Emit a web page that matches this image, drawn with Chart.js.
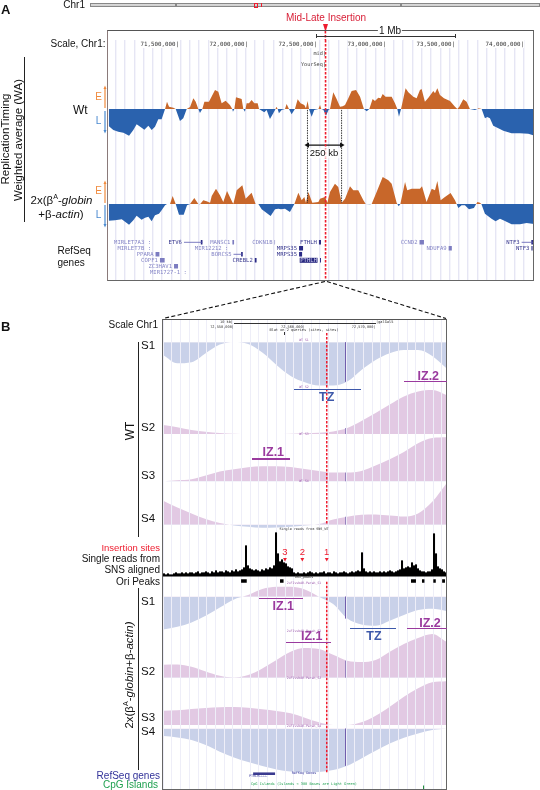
<!DOCTYPE html>
<html><head><meta charset="utf-8">
<style>
html,body{margin:0;padding:0;background:#fff;width:540px;height:790px;overflow:hidden}
#page{position:relative;width:540px;height:790px;overflow:hidden;font-family:"Liberation Sans",Arial,sans-serif}
canvas{position:absolute}
.t{position:absolute;white-space:nowrap;line-height:1;z-index:5}
.b{position:absolute;z-index:5}
svg{position:absolute;left:0;top:0;z-index:4}
sup{font-size:.62em;line-height:0}
</style>
<script src="https://cdn.jsdelivr.net/npm/chart.js@4"></script>
</head><body><div id="page"></div>
<script>
/* ---------- Panel A data: x in Mb on chr1, y in weighted-average units ---------- */
const wtMb=[70.99,71.024,71.060,71.097,71.138,71.169,71.193,71.229,71.249,71.278,71.302,71.326,71.350,71.374,71.399,71.413,71.428,71.459,71.476,71.507,71.531,71.556,71.580,71.604,71.621,71.640,71.652,71.669,71.684,71.717,71.761,71.785,71.809,71.838,71.869,71.886,71.891,71.901,71.913,71.954,71.966,71.978,71.990,72.007,72.026,72.046,72.070,72.080,72.118,72.135,72.159,72.183,72.200,72.205,72.215,72.224,72.244,72.268,72.280,72.297,72.316,72.340,72.360,72.381,72.408,72.420,72.432,72.442,72.461,72.480,72.510,72.522,72.531,72.546,72.565,72.584,72.594,72.618,72.642,72.667,72.686,72.703,72.727,72.751,72.783,72.812,72.840,72.860,72.879,72.903,72.920,72.944,72.961,72.976,72.997,73.041,73.065,73.082,73.094,73.109,73.142,73.162,73.198,73.222,73.246,73.258,73.282,73.307,73.343,73.355,73.372,73.391,73.420,73.464,73.500,73.517,73.531,73.560,73.584,73.608,73.645,73.662,73.671,73.693,73.717,73.734,73.753,73.777,73.814,73.850,73.910,73.971,74.031,74.075];
const wtWA=[-1.7,-2.1,-2.27,-2.37,-2.67,-2.1,-1.53,-1.87,-2.07,-1.67,-2.1,-1.77,-1.03,-1.03,0,.73,.23,.13,0,-1.2,-.93,0,.2,1.07,.73,0,-.4,0,.73,.73,1.9,1.73,.57,.83,.4,0,-.27,0,1.17,1,0,-.27,.57,.57,.9,.57,.57,0,-.33,-.1,-1,-.43,0,.23,0,-.43,-.1,0,.5,0,-.53,0,.97,.57,.4,.07,.8,0,-.77,-.1,0,.4,0,-.07,-.67,-.07,0,1.67,1,.23,.27,.4,1.07,1.8,1.9,1.23,0,-.23,0,1,.8,1.13,1.07,1.5,1.23,1.23,.57,0,-.77,0,2.07,1.67,1.23,1.07,1.9,2,.73,1.13,1.8,1.57,2.07,1.4,1.07,.8,.23,0,.23,.97,.73,0,-.1,0,.07,0,-.93,-.8,-.93,-1.67,-1.93,-2.17,-2.43,-2.43,-2.47,-2.67];
const koMb=[70.99,71.036,71.085,71.138,71.169,71.193,71.229,71.254,71.278,71.302,71.326,71.355,71.374,71.399,71.413,71.435,71.454,71.476,71.500,71.534,71.558,71.580,71.611,71.640,71.652,71.676,71.700,71.725,71.737,71.768,71.797,71.821,71.848,71.886,71.894,71.918,71.959,71.983,72.026,72.055,72.075,72.099,72.164,72.196,72.220,72.239,72.268,72.304,72.336,72.365,72.389,72.408,72.420,72.437,72.466,72.510,72.522,72.558,72.575,72.594,72.630,72.654,72.679,72.703,72.739,72.763,72.799,72.836,72.853,72.884,72.896,72.932,72.976,73.017,73.041,73.077,73.092,73.104,73.138,73.154,73.186,73.246,73.261,73.294,73.331,73.355,73.372,73.396,73.427,73.468,73.500,73.512,73.524,73.548,73.572,73.601,73.637,73.662,73.681,73.691,73.717,73.765,73.794,73.826,73.862,73.910,73.971,74.019,74.075];
const koWA=[-1.67,-1.63,-1.53,-2.07,-1.63,-1.17,-1.57,-1.37,-1.27,-1.73,-1.13,-.97,-.63,-.13,0,0,.8,0,-1.07,-1.07,-.13,0,.6,0,-.03,.37,.27,.13,.8,1.53,.87,.2,1.3,.2,.03,1.37,1.87,.53,1.13,0,0,-.53,-1.2,-.53,-.47,-.53,-.47,-.8,0,1.13,.37,.7,.13,1.2,.13,.2,.53,.7,.13,1.2,2.03,1.7,.13,.53,1.77,1.37,1.37,.37,0,-.03,0,1.2,2.7,2.37,2.03,.13,-.23,0,2.2,1.37,1.53,1.53,1.77,.2,1.53,1.37,2.3,.37,.7,1.1,.37,0,-.4,-.13,-.13,-.53,-.4,.2,.13,0,-.97,-1.47,-1.73,-1.47,-1.7,-2.03,-2.03,-1.9,-2];
const aTickMb=[71.5,72,72.5,73,73.5,74];
const insertionMb=72.562;
const window250Mb=[72.431,72.678];
/* RefSeq genes, panel A */
const geneNames=["MIRLET7A3 :","ETV6","MANSC1","CDKN1B","FTHLH","CCND2","NTF3","MIRLET7B :","MIR12212 :","MRPS35","NDUFA9","NTF3","PPARA","BORCS5","MRPS35","COPF1","CREBL2","PTHLH","ZC3HAV1","MIR1727-1 :"];
const geneRow=[0,0,0,0,0,0,0,1,1,1,1,1,2,2,2,3,3,3,4,5];
const geneStart=[71.312,71.536,71.887,72.192,72.514,73.243,73.983,71.312,71.873,72.370,73.454,74.054,71.330,71.895,72.370,71.362,72.049,72.522,71.464,71.572];
const geneEnd=[71.312,71.670,71.899,72.196,72.529,73.275,74.065,71.312,71.873,72.399,73.477,74.062,71.358,71.962,72.392,71.396,72.062,72.529,71.493,71.572];
const geneDark=[0,1,0,0,1,0,1,0,0,1,0,1,0,0,1,0,1,2,0,0];
const geneHasIntron=[0,1,0,0,0,0,1,0,0,0,0,0,0,1,0,0,0,0,0,0];

/* ---------- Panel B data: x in kb on chr1, tracks sampled every 2 kb ---------- */
const trackKb=[72540,72542,72544,72546,72548,72550,72552,72554,72556,72558,72560,72562,72564,72566,72568,72570,72572,72574,72576,72578,72580];
const wtS1=[-1.27,-2.1,-2,-1.1,-.23,0,-.17,-1.03,-2.27,-3.37,-4,-4.33,-4.33,-3.93,-2.77,-1.77,-1.1,-.77,-.77,-1.37,-2.6];
const wtS2=[.9,.67,.4,.22,.1,.02,0,0,0,.02,.07,.13,.25,.6,1.3,2.1,2.95,3.75,4.25,4.4,3.9];
const wtS3=[0,.1,.2,.57,.97,1.2,1.4,1.5,1.5,1.43,1.23,1.03,.87,.87,1.03,1.57,2.2,2.93,3.8,4.33,4.4];
const wtS4=[2.4,1.73,1.13,.57,.17,-.07,-.2,-.3,-.27,-.2,-.07,.07,.53,.8,1,1.03,.93,.83,1.13,2.3,4.13];
const koS1=[-3.27,-3,-2.57,-1.9,-1.07,-.27,.17,.77,1,1,.73,0,-.73,-2.17,-2.77,-2.9,-2.4,-1.83,-1.33,-1.2,-1.43];
const koS2=[1.3,1.33,1.1,.63,.2,.03,.27,.93,1.77,2.6,2.97,2.87,2.3,1.7,1.57,1.77,2.6,3.37,3.97,4.37,3.6];
const koS3=[1.43,1.47,1.6,1.7,1.77,1.8,1.73,1.57,1.4,1.17,.73,.27,0,0,.27,.93,1.83,2.83,3.67,4.27,4.37];
const koS4=[-.73,-.87,-1.13,-1.63,-2.3,-2.87,-3.33,-3.73,-4.07,-4.27,-4.37,-4.33,-4.13,-3.7,-2.97,-2.2,-1.47,-.9,-.47,-.13,0];
const featureIndex=13;
const readsStartKb=72539.83, readsBinKb=0.2825;
const sns=[1,2,1,2,1,1,2,3,2,2,3,2,3,2,3,3,2,3,4,2,3,3,4,3,2,4,3,5,3,4,4,3,5,4,3,5,4,6,4,5,6,8,30,10,7,6,5,6,5,4,6,5,7,6,8,7,10,43,22,14,16,13,12,9,8,7,3,2,3,2,2,3,2,3,4,3,2,3,2,3,3,4,2,3,3,2,4,3,2,3,3,4,3,2,3,4,3,4,5,4,23,7,4,3,4,3,4,3,3,4,3,4,3,4,5,4,3,4,5,6,15,7,8,9,8,13,10,11,7,5,4,4,3,4,4,6,42,22,9,7,6,4,3];
const oriStartKb=[72551.0,72556.5,72575.0,72576.55,72578.15,72579.4];
const oriEndKb=[72551.8,72557.0,72575.7,72576.9,72578.5,72579.8];
const insertionSitesKb=[72557.2,72559.65,72563.1];
const insertionKb=72563.1;
const bTickKb=[72550,72560,72570];
const fthlhKb=[72552.7,72555.8];
const cpgKb=[72576.7,72576.85];

/* ---------- helpers ---------- */
const page=document.getElementById('page');
const SANS='"Liberation Sans",Arial,sans-serif', MONO='"DejaVu Sans Mono",monospace';
function T(html,x,y,o={}){
  const d=document.createElement('div');d.className='t';d.innerHTML=html;
  const a=o.a||'l',tx=a==='c'?'-50%':a==='r'?'-100%':'0';
  d.style.cssText+=`left:${x}px;top:${y}px;font-size:${o.s||10}px;color:${o.c||'#111'};font-family:${o.f||SANS};font-weight:${o.w||'normal'};`+
    `transform:translate(${tx},-50%)${o.rot?` rotate(${o.rot}deg)`:''};`+(o.bg?`background:${o.bg};padding:0 1px;`:'');
  page.appendChild(d);return d;
}
function B(x,y,w,h,css){const d=document.createElement('div');d.className='b';d.style.cssText=`left:${x}px;top:${y}px;width:${w}px;height:${h}px;${css||''}`;page.appendChild(d);return d;}
function canvasAt(x,y,w,h,z){const c=document.createElement('canvas');c.width=w;c.height=h;c.style.cssText=`left:${x}px;top:${y}px;width:${w}px;height:${h}px;z-index:${z||1}`;page.appendChild(c);return c;}
const zip=(xs,ys)=>xs.map((x,i)=>({x,y:ys[i]}));
const yAxis=(base,top,bottom,ppu)=>({type:'linear',display:false,min:-(bottom-base)/ppu,max:(base-top)/ppu});
const fracAxis={type:'linear',display:false,min:0,max:1,reverse:true};
const baseOpts=(scales)=>({responsive:false,animation:false,events:[],layout:{padding:0,autoPadding:false},
  plugins:{legend:{display:false},tooltip:{enabled:false}},elements:{point:{radius:0}},scales});

/* ---------- Panel A chart ---------- */
const aL=108,aR=534,aT=40,aB=281;
const mbPerPx=0.5/69;
const aMin=71.5+(aL-179)*mbPerPx, aMax=71.5+(aR-179)*mbPerPx;
const aGrid=[];for(let i=0;i<45;i++)aGrid.push(71.041+0.0672*i);
const fmt=v=>Math.round(v).toLocaleString('en-US');

function segments(list){const out=[];list.forEach(i=>{out.push({x:geneStart[i],y:geneRow[i]},{x:geneEnd[i],y:geneRow[i]},{x:geneEnd[i],y:null});});return out;}
const idx=geneNames.map((_,i)=>i);
const hasMark=i=>geneEnd[i]>geneStart[i];
const thickDark=idx.filter(i=>hasMark(i)&&geneDark[i]&&!geneHasIntron[i]);
const thickLight=idx.filter(i=>hasMark(i)&&!geneDark[i]&&!geneHasIntron[i]);
const intron=idx.filter(i=>geneHasIntron[i]);

const geneLabelPlugin={id:'geneLabels',afterDatasetsDraw(ch){
  const c=ch.ctx,x=ch.scales.x,y=ch.scales.yGene;
  c.save();c.font='5.6px '+MONO;c.textAlign='right';c.textBaseline='middle';
  geneNames.forEach((n,i)=>{
    const px=x.getPixelForValue(geneStart[i])-(geneDark[i]===2?3:2),py=y.getPixelForValue(geneRow[i]);
    if(geneDark[i]===2){const w=c.measureText(n).width;c.fillStyle='#2a2a80';c.fillRect(px-w-0.5,py-2.5,w+1,5);c.fillStyle='#cfcfee';}
    else c.fillStyle=geneDark[i]?'#34348c':'#8585c6';
    c.fillText(n,px,py);
  });
  c.restore();
}};

new Chart(canvasAt(aL,aT,aR-aL,aB-aT),{type:'line',plugins:[geneLabelPlugin],data:{datasets:[
  {data:[{x:insertionMb,y:0},{x:insertionMb,y:1}],yAxisID:'yFrac',borderColor:'#ee1c2e',borderWidth:1.6,borderDash:[2.5,1.5]},
  {data:[{x:window250Mb[0],y:.436},{x:window250Mb[1],y:.436}],yAxisID:'yFrac',borderColor:'#111',borderWidth:1.2,pointStyle:'triangle',pointRadius:3,pointRotation:[-90,90],pointBackgroundColor:'#111',pointBorderWidth:0},
  {data:[{x:window250Mb[0],y:.29},{x:window250Mb[0],y:.676},{x:window250Mb[0],y:null},{x:window250Mb[1],y:.29},{x:window250Mb[1],y:.676}],yAxisID:'yFrac',borderColor:'#222',borderWidth:.9,borderDash:[1.5,1]},
  {data:segments(thickDark),yAxisID:'yGene',borderColor:'#2a2a85',borderWidth:4.5},
  {data:segments(thickLight),yAxisID:'yGene',borderColor:'#7c7cc0',borderWidth:4.5},
  {data:segments(intron),yAxisID:'yGene',borderColor:'#5a5ab0',borderWidth:.8},
  {data:intron.flatMap(i=>[{x:geneEnd[i]-0.012,y:geneRow[i]},{x:geneEnd[i],y:geneRow[i]},{x:geneEnd[i],y:null}]),yAxisID:'yGene',borderColor:'#2a2a85',borderWidth:4.5},
  {data:zip(wtMb,wtWA),yAxisID:'yWt',borderWidth:0,fill:{target:'origin',above:'#c8672a',below:'#2a62ae'}},
  {data:zip(koMb,koWA),yAxisID:'yKo',borderWidth:0,fill:{target:'origin',above:'#c8672a',below:'#2a62ae'}}
]},options:baseOpts({
  x:{type:'linear',position:'top',min:aMin,max:aMax,
     afterBuildTicks(s){s.ticks=[...aGrid,...aTickMb].sort((a,b)=>a-b).map(value=>({value}));},
     afterFit(s){s.height=0;},
     border:{display:false},
     grid:{drawTicks:false,lineWidth:1.4,color:c=>aTickMb.includes(c.tick&&c.tick.value)?'rgba(0,0,0,0)':'#e6e6f4'},
     ticks:{autoSkip:false,mirror:true,maxRotation:0,align:'end',padding:0,z:2,color:'#333',font:{family:'DejaVu Sans Mono',size:5.8,lineHeight:1.38},
       showLabelBackdrop:c=>aTickMb.includes(c.tick&&c.tick.value),backdropColor:'#fff',backdropPadding:0,
       callback:v=>aTickMb.includes(v)?fmt(v*1e6)+'|':''}},
  yWt:yAxis(109,aT,aB,10),yKo:yAxis(204,aT,aB,10),
  yFrac:fracAxis,
  yGene:{type:'linear',display:false,reverse:true,min:(aT-242.3)/6,max:(aB-242.3)/6}
})});

/* ---------- Panel B charts ---------- */
const bL=162,bR=447,bT=319,bB=789;
const kbPerPx=10/70.8;
const bMin=72550+(bL-234)*kbPerPx, bMax=72550+(bR-234)*kbPerPx;
const bGrid=[];for(let i=0;i<33;i++)bGrid.push(72540+i*1.23);
const tracks=[[wtS1,342.3],[wtS2,434],[wtS3,481.3],[wtS4,524.7],[koS1,596.7],[koS2,677.7],[koS3,725],[koS4,728.7]];
const trackScales={};tracks.forEach((t,i)=>trackScales['t'+i]=yAxis(t[1],bT,bB,10));
const featureKb=trackKb[featureIndex]-0.23;
new Chart(canvasAt(bL,bT,bR-bL,bB-bT,1),{type:'line',data:{datasets:[
  ...tracks.map((t,i)=>({data:[{x:featureKb,y:0},{x:featureKb,y:t[0][featureIndex]}],yAxisID:'t'+i,borderColor:'rgba(110,90,170,.75)',borderWidth:1})),
  ...tracks.map((t,i)=>({data:zip(trackKb,t[0]),yAxisID:'t'+i,borderWidth:0,cubicInterpolationMode:'monotone',fill:{target:'origin',above:'#e2c9e3',below:'#c9d1e9'}}))
]},options:baseOpts(Object.assign({
  x:{type:'linear',position:'top',min:bMin,max:bMax,
     afterBuildTicks(s){s.ticks=[...bGrid,...bTickKb].sort((a,b)=>a-b).map(value=>({value}));},
     afterFit(s){s.height=0;},
     border:{display:false},
     grid:{drawTicks:false,lineWidth:1,z:1,color:c=>bTickKb.includes(c.tick&&c.tick.value)?'rgba(0,0,0,0)':'#eeeef8'},
     ticks:{autoSkip:false,mirror:true,maxRotation:0,align:'end',padding:0,z:2,color:'#333',font:{family:'DejaVu Sans Mono',size:3.6,lineHeight:4.72},
       callback:v=>bTickKb.includes(v)?fmt(v*1e3)+'|':''}}
},trackScales))});

/* overlay: read pile-up, Ori peaks, insertion lines */
new Chart(canvasAt(bL,bT,bR-bL,bB-bT,2),{type:'line',data:{datasets:[
  {data:[{x:insertionKb,y:.03},{x:insertionKb,y:.4383},{x:insertionKb,y:null},{x:insertionKb,y:.5589},{x:insertionKb,y:.966}],yAxisID:'yFrac',borderColor:'#ee1c2e',borderWidth:1.5,borderDash:[2.5,1.5]},
  {data:insertionSitesKb.map(x=>({x,y:16.5})),yAxisID:'yReads',showLine:false,pointStyle:'triangle',pointRadius:2.2,pointRotation:180,pointBackgroundColor:'#ee1c2e',pointBorderWidth:0},
  {data:oriStartKb.flatMap((s,i)=>[{x:s,y:.5},{x:oriEndKb[i],y:.5},{x:oriEndKb[i],y:null}]),yAxisID:'yOri',borderColor:'#000',borderWidth:3.6},
  {data:[{x:bMin,y:0},{x:bMax,y:0}],yAxisID:'yReads',borderColor:'#000',borderWidth:1.6},
  {type:'bar',data:sns.map((v,i)=>({x:readsStartKb+i*readsBinKb,y:v})),yAxisID:'yReads',backgroundColor:'#000',barThickness:1.4,borderWidth:0},
  {data:[{x:fthlhKb[0],y:.9675},{x:fthlhKb[1],y:.9675}],yAxisID:'yFrac',borderColor:'#3a3a90',borderWidth:2.6},
  {data:[{x:cpgKb[0],y:.9992},{x:cpgKb[1],y:.9992}],yAxisID:'yFrac',borderColor:'#1a8a3a',borderWidth:6}
]},options:baseOpts({
  x:{type:'linear',min:bMin,max:bMax,display:false,offset:false},
  yFrac:fracAxis,
  yReads:yAxis(575.7,bT,bB,1),
  yOri:yAxis(581.5,bT,bB,1)
})});

/* ---------- Frames and ideogram ---------- */
B(107,30,427,251,'border:1.4px solid #666;box-sizing:border-box;border-top-color:#555;border-left-color:#8a7a7a;');
B(162,318.5,285,471,'border:1.4px solid #666;box-sizing:border-box;border-top-color:#555;');
B(90,3.3,450,4,'background:linear-gradient(#bbb,#eee 45%,#bbb);border:.6px solid #888;box-sizing:border-box;');
B(175,3.3,1.5,4,'background:#888');B(400,3.3,1.5,4,'background:#888');
B(254,2.6,3.6,5.6,'border:1px solid #ee1c2e;box-sizing:border-box;');B(261.4,3.3,.8,4,'background:#ee1c2e');

/* ---------- Panel A labels ---------- */
T('<b>A</b>',1,9,{s:13});T('<b>B</b>',1,326,{s:13});
T('Chr1',85,5,{a:'r',s:10});
T('Mid-Late Insertion',326,18,{a:'c',s:10,c:'#d81e36'});
T('1 Mb',390,31,{a:'c',s:10,bg:'#fff'});
T('Scale, Chr1:',105.5,43.5,{a:'r',s:10});
B(316,35.5,139,.9,'background:#333');B(316,34,.8,4,'background:#333');B(455,34,.8,4,'background:#333');
T('mid|',326,54,{a:'r',s:5.2,f:MONO,c:'#444'});
T('YourSeq|',326,65,{a:'r',s:5.2,f:MONO,c:'#444'});
T('ReplicationTiming',6,139,{a:'c',s:11.5,rot:-90});
T('Weighted average (WA)',18.5,140,{a:'c',s:11.5,rot:-90});
B(24,57,1.1,165,'background:#222');
T('Wt',73,110,{s:12});
T('2x(β<sup>A</sup>-<i>globin</i>',92.5,201,{a:'r',s:11.5});
T('+β-<i>actin</i>)',61,214.5,{a:'c',s:11.5});
T('RefSeq',57.5,251,{s:10});T('genes',57.5,263,{s:10});
T('E',98.5,97,{a:'c',s:10,c:'#f08a3c'});T('L',98.5,121,{a:'c',s:10,c:'#4a8ad0'});
T('E',98.5,191,{a:'c',s:10,c:'#f08a3c'});T('L',98.5,215,{a:'c',s:10,c:'#4a8ad0'});
T('250 kb',324,153,{a:'c',s:9.5,bg:'rgba(255,255,255,.75)'});

/* ---------- Panel B labels ---------- */
T('Scale Chr1',158,325,{a:'r',s:10});
T('10 kb|',233,323,{a:'r',s:3.6,f:MONO,c:'#333'});
T('|galGal5',376,323,{s:3.6,f:MONO,c:'#333'});
B(234,323,142,.7,'background:#333');
T('Blat on 2 queries (sites, sites)',304,330.5,{a:'c',s:3.6,f:MONO,c:'#333'});
B(284,332,.6,3,'background:#333');
[['S1',345.7],['S2',428],['S3',476],['S4',519],['S1',601.7],['S2',671.7],['S3',718.3],['S4',731.7]].forEach(s=>T(s[0],141,s[1],{s:11.5}));
B(138,341.7,1.1,195,'background:#222');B(138,588,1.1,182,'background:#222');
T('WT',130,431,{a:'c',s:12,rot:-90});
T('2x(β<sup>A</sup>-<i>globin</i>+β-<i>actin)</i>',130,675,{a:'c',s:11.5,rot:-90});
T('Insertion sites',160,548,{a:'r',s:9.5,c:'#ee1c2e'});
T('Single reads from',160,558.5,{a:'r',s:10});
T('SNS aligned',160,570,{a:'r',s:10});
T('Ori Peaks',160,581.7,{a:'r',s:10});
T('RefSeq genes',160,775.7,{a:'r',s:10,c:'#33339a'});
T('CpG Islands',158,785,{a:'r',s:10,c:'#1fa050'});
[['3',285],['2',302.3],['1',326.7]].forEach(s=>T(s[0],s[1],552,{a:'c',s:9.5,c:'#ee1c2e'}));
const purple='#9a3a9e',blue='#3d58aa';
[['IZ.2',428.3,376,404,446.7,381.7,purple],['TZ',326.7,396.7,294.3,360.7,389.3,blue],['IZ.1',273.3,452.3,251.7,290,459,purple],
 ['IZ.1',283.3,605.7,259.3,303.3,598.3,purple],['IZ.1',311.7,636,285.7,330.7,642.7,purple],['TZ',374,635.7,350,396,628.3,blue],['IZ.2',430,622.7,407.3,446.7,628.7,purple]]
 .forEach(r=>{T(r[0],r[1],r[2],{a:'c',s:12.5,w:'bold',c:r[6]});B(r[3],r[5]-.8,r[4]-r[3],1.6,'background:'+r[6]);});
[['WT_S1',304,340.7],['WT_S2',304,388],['WT_S3',304,435],['WT_S4',304,482.3],['2xFIvsbAB-Parah_S1',304,584],['2xFIvsbAB-Parah_S2',304,631.7],['2xFIvsbAB-Parah_S3',304,679.3],['2xFIvsbAB-Parah_S4',304,727]]
 .forEach(r=>T(r[0],r[1],r[2],{a:'c',s:3.2,f:MONO,c:'#a060b0'}));
T('Single reads from SNS_WT',304,530,{a:'c',s:3.4,f:MONO,c:'#333'});
T('ORI_peaks',304,577.7,{a:'c',s:3.4,f:MONO,c:'#333'});
T('RefSeq Genes',304,774,{a:'c',s:3.4,f:MONO,c:'#33339a'});
T('PTHLH←←←←',249,777.3,{s:3.4,f:MONO,c:'#33339a'});
T('CpG Islands (Islands &lt; 300 Bases are Light Green)',304,784.7,{a:'c',s:3.6,f:MONO,c:'#1fa050'});

/* ---------- Arrows, triangle, funnel ---------- */
page.insertAdjacentHTML('beforeend',`<svg width="540" height="790" viewBox="0 0 540 790">
<path d="M325 281.5L163 318.5M327 281.5L446 318.5" stroke="#111" stroke-width="1.1" stroke-dasharray="4 2.4" fill="none"/>
<path d="M325.4 31V40" stroke="#ee1c2e" stroke-width="1.6" stroke-dasharray="2.5 1.5"/>
<path d="M323 24h5l-2.5 8z" fill="#ee1c2e"/>
<g stroke-width="1.2" fill="none">
<path d="M105 108V88" stroke="#f08a3c"/><path d="M105 111V131" stroke="#4a8ad0"/>
<path d="M105 203V183" stroke="#f08a3c"/><path d="M105 205V225" stroke="#4a8ad0"/></g>
<path d="M103.5 89L105 85.5L106.5 89zM103.5 184L105 180.5L106.5 184z" fill="#f08a3c"/>
<path d="M103.5 130L105 133.5L106.5 130zM103.5 224L105 227.5L106.5 224z" fill="#4a8ad0"/>
</svg>`);
</script></body></html>
